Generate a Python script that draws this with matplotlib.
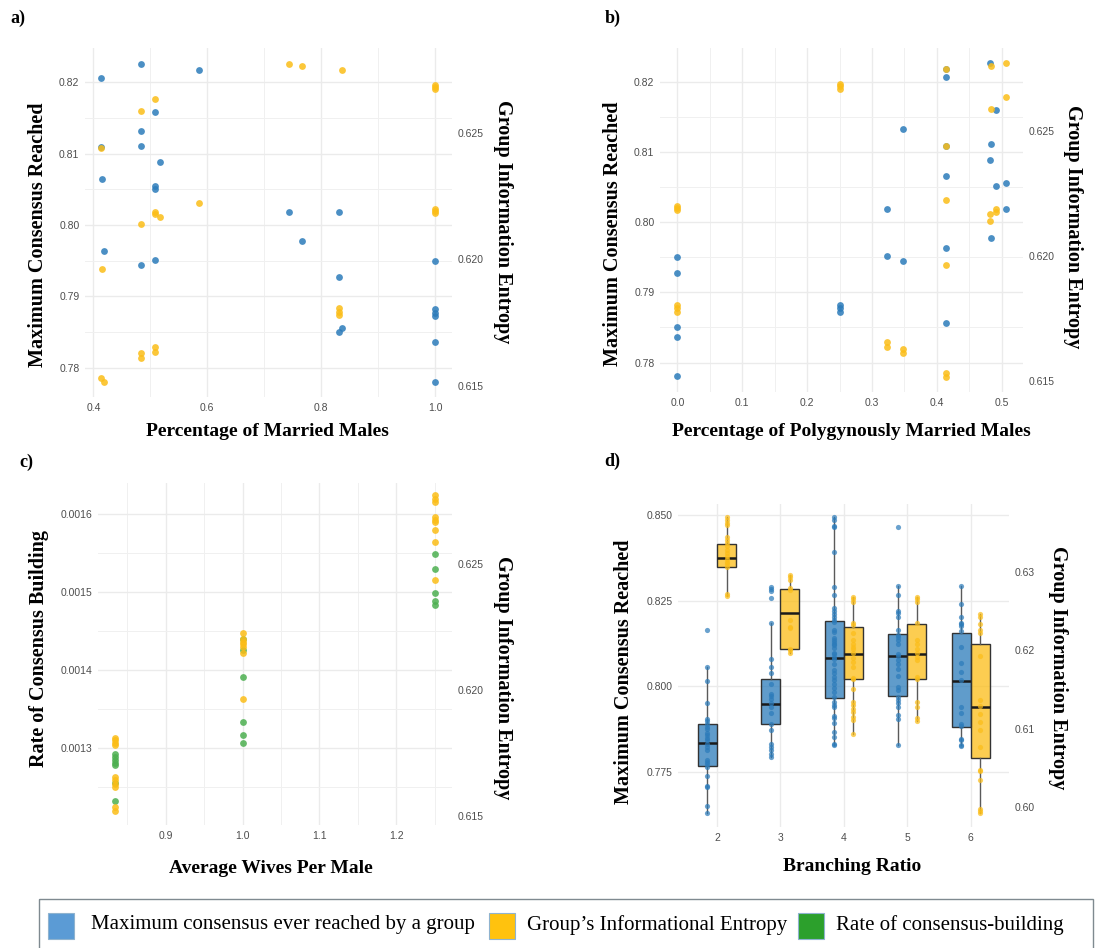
import matplotlib
matplotlib.use("Agg")
import matplotlib.pyplot as plt
from matplotlib.patches import Rectangle
from matplotlib.ticker import FormatStrFormatter

# colours
blue = '#2b7bba'
yellow = '#fbbd17'
green = '#4caf50'
legend_colors = ['#5b9bd5', '#ffc20e', '#2ca02c']
legend_labels = ['Maximum consensus ever reached by a group',
                 'Group\u2019s Informational Entropy',
                 'Rate of consensus-building']

# ---- panel a: percentage of married males
a_blue_x = [0.4135, 0.4837, 0.585, 0.4135, 0.416, 0.419, 0.4837, 0.4837, 0.4837,
            0.5077, 0.517, 0.5077, 0.5077, 0.5077, 0.743, 0.767, 0.831, 0.831,
            0.831, 0.837, 1.0, 1.0, 1.0, 1.0, 1.0, 1.0]
a_blue_y = [0.8206, 0.8226, 0.8217, 0.8109, 0.8064, 0.7963, 0.8132, 0.8110, 0.7944,
            0.8159, 0.8088, 0.8055, 0.8051, 0.7951, 0.8018, 0.7978, 0.8018, 0.7927,
            0.7850, 0.7856, 0.7950, 0.7882, 0.7876, 0.7872, 0.7836, 0.7780]
a_yel_x = [0.743, 0.767, 0.837, 1.0, 1.0, 1.0, 0.5077, 0.4837, 0.4135, 0.585,
           0.5077, 0.5077, 0.517, 0.4837, 1.0, 1.0, 1.0, 0.416, 0.831, 0.831,
           0.831, 0.5077, 0.5077, 0.4837, 0.4837, 0.4135, 0.419]
a_yel_y = [0.62771, 0.62762, 0.62747, 0.62688, 0.62679, 0.62671, 0.62633, 0.62586,
           0.62438, 0.62222, 0.62188, 0.62179, 0.62167, 0.62141, 0.62199, 0.62192,
           0.62184, 0.61962, 0.61807, 0.61793, 0.61780, 0.61653, 0.61636, 0.61629,
           0.61612, 0.61532, 0.61517]

# ---- panel b: percentage of polygynously married males
b_blue_x = [0, 0, 0, 0, 0, 0.2508, 0.2508, 0.2508, 0.3232, 0.3232, 0.3479, 0.3479,
            0.4137, 0.4137, 0.4137, 0.4137, 0.4137, 0.4137, 0.4825, 0.4836, 0.4825,
            0.4913, 0.4913, 0.5072, 0.5072, 0.4836]
b_blue_y = [0.7951, 0.7927, 0.7850, 0.7836, 0.7781, 0.7882, 0.7877, 0.7872, 0.8018,
            0.7952, 0.8133, 0.7945, 0.8218, 0.8206, 0.8109, 0.8065, 0.7963, 0.7856,
            0.8227, 0.8111, 0.8088, 0.8159, 0.8051, 0.8055, 0.8018, 0.7978]
b_yel_x = [0, 0, 0, 0, 0, 0, 0.2508, 0.2508, 0.2508, 0.3232, 0.3232, 0.3479, 0.3479,
           0.4137, 0.4137, 0.4137, 0.4137, 0.4137, 0.4137, 0.4836, 0.5072, 0.5072,
           0.4836, 0.4913, 0.4913, 0.4825, 0.4825]
b_yel_y = [0.62200, 0.62192, 0.62184, 0.61803, 0.61790, 0.61776, 0.62688, 0.62679,
           0.62670, 0.61654, 0.61636, 0.61629, 0.61612, 0.62748, 0.62440, 0.62224,
           0.61963, 0.61532, 0.61517, 0.62762, 0.62772, 0.62635, 0.62587, 0.62189,
           0.62178, 0.62170, 0.62141]

# ---- panel c: average wives per male
c_green_x = [0.8333] * 7 + [1.0] * 6 + [1.25] * 5
c_green_y = [0.0012923, 0.0012885, 0.0012851, 0.0012817, 0.0012787, 0.0012562, 0.0012328,
             0.0014391, 0.0014255, 0.0013906, 0.0013340, 0.0013170, 0.0013064,
             0.0015481, 0.0015289, 0.0014979, 0.0014881, 0.0014838]
c_yel_x = [0.8333] * 10 + [1.0] * 7 + [1.25] * 9
c_yel_y = [0.61810, 0.61801, 0.61790, 0.61781, 0.61655, 0.61642, 0.61628, 0.61615,
           0.61536, 0.61520,
           0.62225, 0.62201, 0.62191, 0.62182, 0.62172, 0.62145, 0.61965,
           0.62774, 0.62761, 0.62748, 0.62688, 0.62677, 0.62668, 0.62635, 0.62587,
           0.62439]

# ---- panel d: branching ratio (box summaries + points)
branching = [2, 3, 4, 5, 6]
d_blue_q1 = [0.77675, 0.78913, 0.79665, 0.79732, 0.78805]
d_blue_med = [0.78357, 0.79499, 0.80835, 0.80883, 0.80171]
d_blue_q3 = [0.78913, 0.80211, 0.81908, 0.81537, 0.81547]
d_blue_lo = [0.76300, 0.77938, 0.78298, 0.78298, 0.78298]
d_blue_hi = [0.80571, 0.81840, 0.84941, 0.82942, 0.82942]
d_yel_q1 = [0.63060, 0.62017, 0.61626, 0.61630, 0.60621]
d_yel_med = [0.63179, 0.62477, 0.61945, 0.61945, 0.61277]
d_yel_q3 = [0.63357, 0.62783, 0.62298, 0.62328, 0.62077]
d_yel_lo = [0.62689, 0.61970, 0.60932, 0.61094, 0.59923]
d_yel_hi = [0.63694, 0.62957, 0.62672, 0.62672, 0.62455]

d_blue_pts = [
    [0.8166, 0.8057, 0.8016, 0.7952, 0.7906, 0.7899, 0.7889, 0.7882, 0.7876, 0.7864,
     0.7857, 0.7849, 0.7843, 0.7833, 0.7823, 0.7813, 0.7786, 0.7778, 0.7772, 0.7765,
     0.7738, 0.7709, 0.7706, 0.7650, 0.7630],
    [0.8291, 0.8286, 0.8280, 0.8257, 0.8184, 0.8079, 0.8057, 0.8038, 0.8008, 0.7979,
     0.7971, 0.7962, 0.7950, 0.7940, 0.7921, 0.7891, 0.7872, 0.7831, 0.7823, 0.7813,
     0.7802, 0.7794],
    [0.8494, 0.8486, 0.8469, 0.8465, 0.8392, 0.8291, 0.8267, 0.8228, 0.8221, 0.8211,
     0.8203, 0.8194, 0.8189, 0.8166, 0.8160, 0.8140, 0.8135, 0.8130, 0.8124, 0.8121,
     0.8111, 0.8098, 0.8094, 0.8086, 0.8079, 0.8065, 0.8049, 0.8038, 0.8026, 0.8018,
     0.8008, 0.7994, 0.7984, 0.7969, 0.7955, 0.7945, 0.7940, 0.7913, 0.7909, 0.7893,
     0.7867, 0.7852, 0.7833, 0.7828],
    [0.8467, 0.8294, 0.8267, 0.8221, 0.8213, 0.8203, 0.8166, 0.8150, 0.8143, 0.8135,
     0.8124, 0.8096, 0.8088, 0.8077, 0.8065, 0.8052, 0.8030, 0.7999, 0.7989, 0.7969,
     0.7960, 0.7950, 0.7940, 0.7916, 0.7906, 0.7830],
    [0.8294, 0.8241, 0.8203, 0.8186, 0.8182, 0.8176, 0.8163, 0.8116, 0.8067, 0.8043,
     0.8018, 0.7940, 0.7923, 0.7891, 0.7884, 0.7847, 0.7843, 0.7830, 0.7826],
]
d_yel_pts = [
    [0.63694, 0.63660, 0.63617, 0.63596, 0.63438, 0.63404, 0.63362, 0.63328, 0.63277,
     0.63234, 0.63200, 0.63166, 0.63128, 0.63098, 0.63064, 0.62715, 0.62689],
    [0.62957, 0.62928, 0.62894, 0.62787, 0.62766, 0.62383, 0.62298, 0.62277, 0.62021,
     0.61999, 0.61970],
    [0.62672, 0.62647, 0.62617, 0.62349, 0.62319, 0.62213, 0.62128, 0.62085, 0.62043,
     0.62009, 0.61958, 0.61906, 0.61851, 0.61787, 0.61651, 0.61626, 0.61511, 0.61341,
     0.61298, 0.61255, 0.61213, 0.61149, 0.61106, 0.60932],
    [0.62672, 0.62647, 0.62617, 0.62349, 0.62128, 0.62085, 0.62021, 0.61958, 0.61915,
     0.61872, 0.61660, 0.61630, 0.61341, 0.61277, 0.61140, 0.61094],
    [0.62455, 0.62426, 0.62340, 0.62255, 0.62213, 0.61923, 0.61370, 0.61285, 0.61192,
     0.61085, 0.60979, 0.60766, 0.60477, 0.60455, 0.60349, 0.59979, 0.59949, 0.59923],
]

serif = ['Liberation Serif', 'DejaVu Serif']
sans = ['Liberation Sans', 'DejaVu Sans']
plt.rcParams['font.family'] = sans

fig = plt.figure(figsize=(10.99, 9.48), dpi=100)
W, H = 1099, 948


def add_axes(x0, y0, x1, y1):
    # pixel box -> figure fraction
    return fig.add_axes([x0 / W, 1 - y1 / H, (x1 - x0) / W, (y1 - y0) / H])


def style(ax, grid=True):
    for s in ax.spines.values():
        s.set_visible(False)
    ax.tick_params(which='both', length=0, labelsize=7.5, labelcolor='#4d4d4d', pad=4)
    if grid:
        ax.set_axisbelow(True)
        ax.grid(which='major', color='#ebebeb', lw=1.0)
        ax.grid(which='minor', color='#f0f0f0', lw=0.7)


def labels(ax, xlab, ylab, rlab, pos):
    (xx, xy), (lx, ly), (rx, ry) = pos
    ax.text(xx, xy, xlab, transform=ax.transAxes, ha='center', va='center',
            fontsize=14, fontweight='bold', family=serif)
    ax.text(lx, ly, ylab, transform=ax.transAxes, ha='center', va='center',
            rotation=90, fontsize=14.5, fontweight='bold', family=serif)
    ax.text(rx, ry, rlab, transform=ax.transAxes, ha='center', va='center',
            rotation=270, fontsize=14.5, fontweight='bold', family=serif)


pt = dict(s=24, alpha=0.85, lw=0, zorder=3)

# ---------------- a)
ax = add_axes(85, 48, 452, 397)
ax2 = ax.twinx()
ax.scatter(a_blue_x, a_blue_y, color=blue, **pt)
ax2.scatter(a_yel_x, a_yel_y, color=yellow, **pt)
ax.set_xlim(0.3854, 1.0298)
ax.set_ylim(0.7759, 0.8248)
ax2.set_ylim(0.61457, 0.62834)
ax.set_xticks([0.4, 0.6, 0.8, 1.0])
ax.set_xticks([0.5, 0.7, 0.9], minor=True)
ax.set_yticks([0.78, 0.79, 0.80, 0.81, 0.82])
ax.set_yticks([0.785, 0.795, 0.805, 0.815], minor=True)
ax.xaxis.set_major_formatter(FormatStrFormatter('%.1f'))
ax.yaxis.set_major_formatter(FormatStrFormatter('%.2f'))
ax2.set_yticks([0.615, 0.620, 0.625])
ax2.yaxis.set_major_formatter(FormatStrFormatter('%.3f'))
style(ax)
style(ax2, grid=False)
labels(ax, 'Percentage of Married Males', 'Maximum Consensus Reached',
       'Group Information Entropy', ((0.496, -0.100), (-0.128, 0.464), (1.139, 0.501)))

# ---------------- b)
ax = add_axes(660, 48, 1023, 392)
ax2 = ax.twinx()
ax.scatter(b_blue_x, b_blue_y, color=blue, **pt)
ax2.scatter(b_yel_x, b_yel_y, color=yellow, **pt)
ax.set_xlim(-0.0267, 0.5328)
ax.set_ylim(0.7758, 0.8248)
ax2.set_ylim(0.61455, 0.62833)
ax.set_xticks([0.0, 0.1, 0.2, 0.3, 0.4, 0.5])
ax.set_xticks([0.05, 0.15, 0.25, 0.35, 0.45], minor=True)
ax.set_yticks([0.78, 0.79, 0.80, 0.81, 0.82])
ax.set_yticks([0.785, 0.795, 0.805, 0.815], minor=True)
ax.xaxis.set_major_formatter(FormatStrFormatter('%.1f'))
ax.yaxis.set_major_formatter(FormatStrFormatter('%.2f'))
ax2.set_yticks([0.615, 0.620, 0.625])
ax2.yaxis.set_major_formatter(FormatStrFormatter('%.3f'))
style(ax)
style(ax2, grid=False)
labels(ax, 'Percentage of Polygynously Married Males', 'Maximum Consensus Reached',
       'Group Information Entropy', ((0.526, -0.116), (-0.129, 0.459), (1.138, 0.48)))

# ---------------- c)
ax = add_axes(98, 483, 452, 825)
ax2 = ax.twinx()
ax.scatter(c_green_x, c_green_y, color=green, **pt)
ax2.scatter(c_yel_x, c_yel_y, color=yellow, **pt)
ax.set_xlim(0.8117, 1.2725)
ax.set_ylim(0.0012020, 0.0016391)
ax2.set_ylim(0.61463, 0.62823)
ax.set_xticks([0.9, 1.0, 1.1, 1.2])
ax.set_xticks([0.85, 0.95, 1.05, 1.15, 1.25], minor=True)
ax.set_yticks([0.0013, 0.0014, 0.0015, 0.0016])
ax.set_yticks([0.00125, 0.00135, 0.00145, 0.00155], minor=True)
ax.xaxis.set_major_formatter(FormatStrFormatter('%.1f'))
ax.yaxis.set_major_formatter(FormatStrFormatter('%.4f'))
ax2.set_yticks([0.615, 0.620, 0.625])
ax2.yaxis.set_major_formatter(FormatStrFormatter('%.3f'))
style(ax)
style(ax2, grid=False)
labels(ax, 'Average Wives Per Male', 'Rate of Consensus Building',
       'Group Information Entropy', ((0.489, -0.126), (-0.167, 0.515), (1.144, 0.431)))

# ---------------- d)
ax = add_axes(678, 504, 1009, 827)
ax2 = ax.twinx()
blue_pos = [b - 0.15 for b in branching]
yel_pos = [b + 0.15 for b in branching]
blue_stats = [dict(q1=q1, med=m, q3=q3, whislo=lo, whishi=hi, fliers=[])
              for q1, m, q3, lo, hi in zip(d_blue_q1, d_blue_med, d_blue_q3, d_blue_lo, d_blue_hi)]
yel_stats = [dict(q1=q1, med=m, q3=q3, whislo=lo, whishi=hi, fliers=[])
             for q1, m, q3, lo, hi in zip(d_yel_q1, d_yel_med, d_yel_q3, d_yel_lo, d_yel_hi)]
box_kw = dict(widths=0.3, patch_artist=True, showfliers=False, showcaps=False,
              whiskerprops=dict(color='#5a5a5a', lw=1.0),
              medianprops=dict(color='#1a1a1a', lw=1.8),
              manage_ticks=False)
bp = ax.bxp(blue_stats, positions=blue_pos,
            boxprops=dict(facecolor=blue, alpha=0.75, edgecolor='#333333', lw=1.0), **box_kw)
for b in bp['boxes']:
    b.set_facecolor((0.169, 0.482, 0.729, 0.75))
    b.set_edgecolor('#333333')
    b.set_alpha(None)
bp2 = ax2.bxp(yel_stats, positions=yel_pos,
              boxprops=dict(facecolor=yellow, edgecolor='#333333', lw=1.0), **box_kw)
for b in bp2['boxes']:
    b.set_facecolor((0.984, 0.741, 0.09, 0.75))
    b.set_edgecolor('#333333')
for p, vals in zip(blue_pos, d_blue_pts):
    ax.scatter([p] * len(vals), vals, color=blue, s=14, alpha=0.7, lw=0, zorder=4)
for p, vals in zip(yel_pos, d_yel_pts):
    ax2.scatter([p] * len(vals), vals, color=yellow, s=14, alpha=0.7, lw=0, zorder=4)
ax.set_xlim(1.385, 6.604)
ax.set_ylim(0.7589, 0.8533)
ax2.set_ylim(0.59745, 0.63864)
ax.set_xticks(branching)
ax.set_xticklabels([str(b) for b in branching])
ax.set_yticks([0.775, 0.800, 0.825, 0.850])
ax.yaxis.set_major_formatter(FormatStrFormatter('%.3f'))
ax2.set_yticks([0.60, 0.61, 0.62, 0.63])
ax2.yaxis.set_major_formatter(FormatStrFormatter('%.2f'))
style(ax)
style(ax2, grid=False)
labels(ax, 'Branching Ratio', 'Maximum Consensus Reached',
       'Group Information Entropy', ((0.527, -0.121), (-0.163, 0.48), (1.148, 0.492)))

# panel letters
for letter, (px, py) in zip(['a)', 'b)', 'c)', 'd)'],
                            [(18, 18), (613, 18), (26, 462), (612, 461)]):
    fig.text(px / W, 1 - py / H, letter, ha='center', va='center',
             fontsize=13, fontweight='bold', family=serif)

# legend strip
lax = fig.add_axes([0, 0, 1, 1], zorder=-1)
lax.set_xlim(0, W)
lax.set_ylim(H, 0)
lax.axis('off')
lax.add_patch(Rectangle((39, 899), 1054, 60, fill=False, edgecolor='#7f8a90', lw=1.0))
for col, lab, sx, tx in zip(legend_colors, legend_labels, [48, 489, 798], [91, 527, 836]):
    lax.add_patch(Rectangle((sx, 913), 26, 26, facecolor=col, edgecolor='#8fb3cf', lw=0.8))
    lax.text(tx, 925, lab, ha='left', va='center', fontsize=15, family=serif)

fig.savefig('out.png', dpi=100)
